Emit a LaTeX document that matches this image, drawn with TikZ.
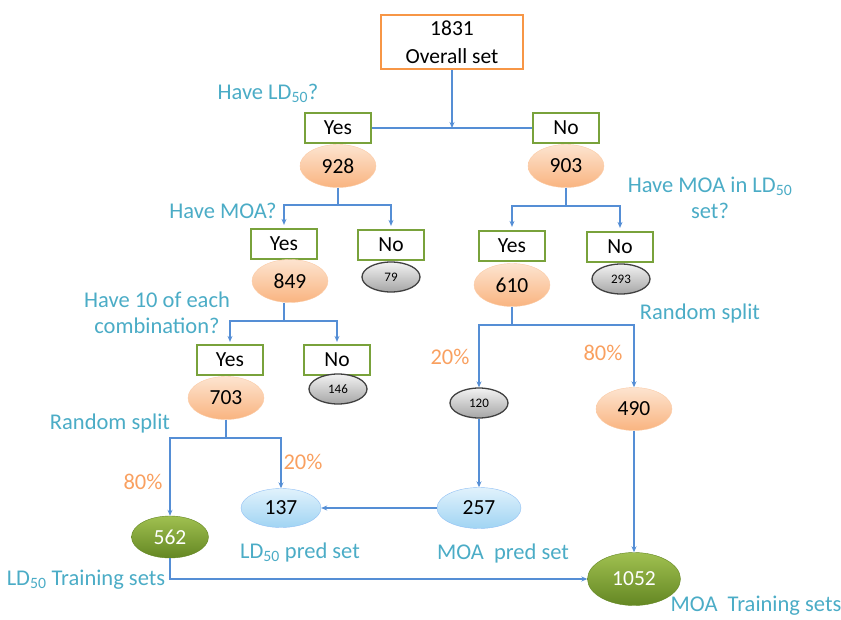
\documentclass[tikz,border=0pt]{standalone}
\usepackage{fontspec}
\setmainfont{Carlito}
\usepackage{tikz}
\usetikzlibrary{positioning, arrows.meta, shapes.geometric}
\usepackage{xcolor}
\definecolor{wireblue}{RGB}{85,142,213}
\definecolor{askblue}{RGB}{75,172,198}
\definecolor{pctorange}{RGB}{249,160,96}
\definecolor{rootorange}{RGB}{247,150,70}
\definecolor{answergreen}{RGB}{121,162,59}
\definecolor{keptlight}{RGB}{253,228,208}
\definecolor{keptdark}{RGB}{249,180,128}
\definecolor{predlight}{RGB}{225,242,252}
\definecolor{preddark}{RGB}{160,212,243}
\definecolor{trainlight}{RGB}{160,192,80}
\definecolor{traindark}{RGB}{100,135,35}
\newcommand{\LDf}{LD\textsubscript{50}}

\begin{document}
\begin{tikzpicture}[
  x=1pt, y=-1pt,
  every node/.style={font=\fontsize{21.5}{28}\selectfont},
  rootbox/.style={draw=rootorange, line width=2pt, minimum width=142pt,
                  minimum height=54pt, inner sep=0pt, align=center},
  answer/.style={draw=answergreen, line width=2.2pt, minimum width=66pt,
                 minimum height=30pt, inner sep=0pt},
  kept/.style={ellipse, draw=keptdark!70, top color=keptlight, bottom color=keptdark,
               minimum width=76pt, minimum height=43pt, inner sep=0pt},
  dropped/.style={ellipse, draw=black!75, line width=1.3pt, top color=black!5,
                  bottom color=black!35, minimum width=58pt, minimum height=30pt,
                  inner sep=0pt, font=\fontsize{13}{15}\selectfont},
  predset/.style={ellipse, draw=preddark!90!blue, top color=predlight, bottom color=preddark,
                  minimum width=80pt, minimum height=39pt, inner sep=0pt},
  trainset/.style={ellipse, draw=traindark, top color=trainlight,
                   bottom color=traindark, text=white,
                   minimum width=77pt, minimum height=42pt, inner sep=0pt},
  ask/.style={text=askblue, font=\fontsize{22.5}{26}\selectfont, align=center},
  pct/.style={text=pctorange, font=\fontsize{22.5}{26}\selectfont},
  wire/.style={draw=wireblue, line width=1.2pt},
  arr/.style={wire, -{Stealth[length=6pt, width=5pt]}}
]
\useasboundingbox (0,0) rectangle (841,620);

% root
\node[rootbox] (all) at (452,42) {1831\\Overall set};
\node[ask] (qLD) at (268,93) {Have \LDf?};
\node[answer] (yesA) at (338,128) {Yes};
\node[answer] (noA)  at (566,128) {No};
\node[kept] (n928) at (338,166) {928};
\node[kept] (n903) at (566,166) {903};
\coordinate (jA) at (452,128);

% LD50 branch
\node[ask] (qMOA) at (223,211) {Have MOA?};
\node[answer] (yesB) at (284,244) {Yes};
\node[answer] (noB)  at (391,245) {No};
\node[kept] (n849) at (290,281) {849};
\node[dropped] (n79) at (391,277) {79};
\coordinate (sB) at (338,205);

\node[ask] (qTen) at (157,313) {Have 10 of each\\combination?};
\node[answer] (yesD) at (230,360) {Yes};
\node[answer] (noD)  at (337,360) {No};
\node[kept] (n703) at (226,398) {703};
\node[dropped] (n146) at (338,389) {146};
\coordinate (sD) at (284,321);

\node[ask] (splitL) at (110,424) {Random split};
\coordinate (sE) at (226,438);
\node[pct] (p80L) at (143,482) {80\%};
\node[pct] (p20L) at (303,462) {20\%};
\node[predset] (n137) at (281,508) {137};
\node[trainset] (n562) at (170,537) {562};
\node[ask] (lLDpred)  at (300,552) {\LDf{} pred set};
\node[ask] (lLDtrain) at (86,580) {\LDf{} Training sets};

% no-LD50 branch
\node[ask] (qMOAin) at (710,198) {Have MOA in \LDf\\set?};
\node[answer] (yesC) at (512,246) {Yes};
\node[answer] (noC)  at (620,247) {No};
\node[kept] (n610) at (512,285) {610};
\node[dropped] (n293) at (621,279) {293};
\coordinate (sC) at (566,206);

\node[ask] (splitR) at (700,314) {Random split};
\coordinate (sF) at (512,325);
\node[pct] (p20R) at (450,357) {20\%};
\node[pct] (p80R) at (603,353) {80\%};
\node[dropped] (n120) at (479,403) {120};
\node[kept] (n490) at (634,409) {490};
\node[predset, minimum width=84pt, minimum height=41pt] (n257) at (479,508) {257};
\node[trainset, minimum width=93pt, minimum height=53pt] (n1052) at (634,579) {1052};
\node[ask] (lMOApred)  at (503,553) {MOA\ \ pred set};
\node[ask] (lMOAtrain) at (756,606) {MOA\ \ Training sets};

% wires
\draw[arr] (all) -- (jA);
\draw[wire] (yesA) -- (noA);

\draw[wire] (n928) -- (sB);
\draw[arr, shorten >=3pt] (sB) -| (yesB);
\draw[arr, shorten >=3pt] (sB) -| (noB);

\draw[wire] (sD |- n849.south) -- (sD);
\draw[arr, shorten >=2pt] (sD) -| (yesD);
\draw[arr, shorten >=2pt] (sD) -| (noD);

\draw[wire] (n703) -- (sE);
\draw[arr] (sE) -| (n562);
\draw[arr] (sE) -| (n137);

\draw[wire] (n903) -- (sC);
\draw[arr, shorten >=3pt] (sC) -| (yesC);
\draw[arr, shorten >=3pt] (sC) -| (noC);

\draw[wire] (n610) -- (sF);
\draw[arr] (sF) -| (n120);
\draw[arr] (sF) -| (n490);

\draw[arr] (n120) -- (n257);
\draw[arr] (n257) -- (n137);
\draw[arr] (n490) -- (n1052);
\draw[arr] (n562) |- (n1052);
\end{tikzpicture}
\end{document}
